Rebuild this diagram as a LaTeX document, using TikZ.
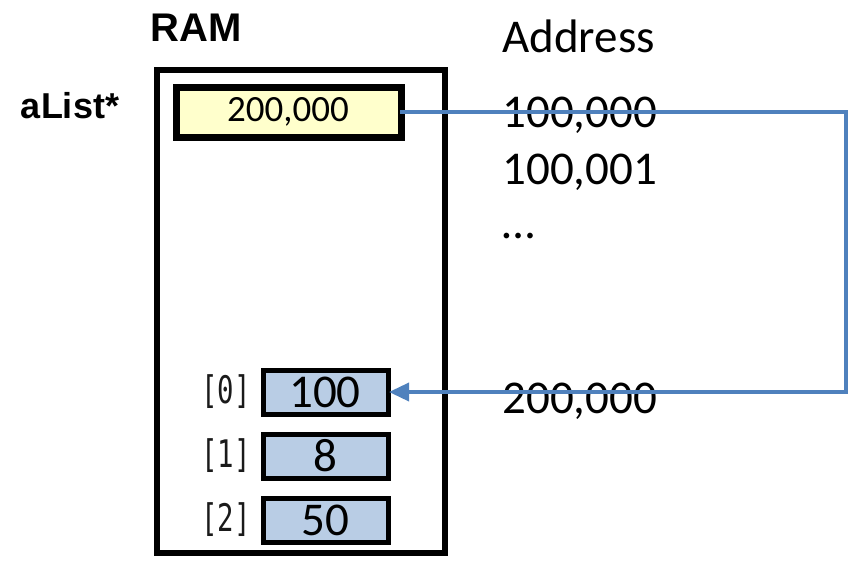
\documentclass[tikz,border=0pt]{standalone}
\usepackage{graphicx}
\usepackage{fontspec}
\setmainfont{Carlito}
\newfontfamily\headfont{Liberation Sans}
\newfontfamily\idxfont{DejaVu Sans Mono}
\usetikzlibrary{arrows.meta}
\definecolor{ptrfill}{HTML}{FFFFCC}
\definecolor{cellfill}{HTML}{B9CDE5}
\definecolor{linkblue}{HTML}{4F81BD}
\definecolor{idxgray}{HTML}{1A1A1A}

\begin{document}
\begin{tikzpicture}[x=0.5pt, y=-0.5pt,
    heading/.style={font=\headfont\bfseries\fontsize{20}{24}\selectfont},
    addr/.style={anchor=base west, inner sep=0pt, font=\fontsize{23.5}{28}\selectfont},
    cell/.style={draw=black, line width=2.5pt, fill=cellfill},
    index/.style={inner sep=0pt, text=idxgray, font=\idxfont\fontsize{19}{22}\selectfont},
    link/.style={linkblue, line width=1.8pt}]
    \useasboundingbox (0,0) rectangle (848,563);

    % Titles
    \node[heading] (ramtitle) at (196,28) {RAM};
    \node[addr] (addrtitle) at (502,52) {Address};
    \node[heading, font=\headfont\bfseries\fontsize{18}{21}\selectfont] (alist) at (70,106) {aList*};

    % RAM block
    \draw[line width=3pt] (157,70) rectangle (445,553);

    % Pointer cell
    \draw[draw=black, line width=3.5pt, fill=ptrfill] (176,87) rectangle (401,137);
    \node[font=\fontsize{18.5}{22}\selectfont] (ptrval) at (288,112) {200,000};
    \coordinate (ptrout) at (400,112);

    % Array cells
    \foreach \i/\v/\y in {0/100/392, 1/8/456, 2/50/520} {
        \draw[cell] (263,\y-22) rectangle (388,\y+22);
        \node[font=\fontsize{23.5}{28}\selectfont] (val\i) at (325,\y) {\v};
        \node[index] (idx\i) at (226,\y) {\scalebox{0.72}[1]{[\i]}};
    }
    \coordinate (cellin) at (389,392);

    % Addresses
    \node[addr] (a0) at (502,127) {100,000};
    \node[addr] (a1) at (502,184) {100,001};
    \node[addr] (adots) at (502,238) {\dots};
    \node[addr] (a2) at (502,413) {200,000};

    % Pointer link
    \coordinate (turn1) at (846,112);
    \coordinate (turn2) at (846,392);
    \draw[link, -{Triangle[length=10pt, width=9pt]}] (ptrout) -- (turn1) -- (turn2) -- (cellin);
\end{tikzpicture}
\end{document}
